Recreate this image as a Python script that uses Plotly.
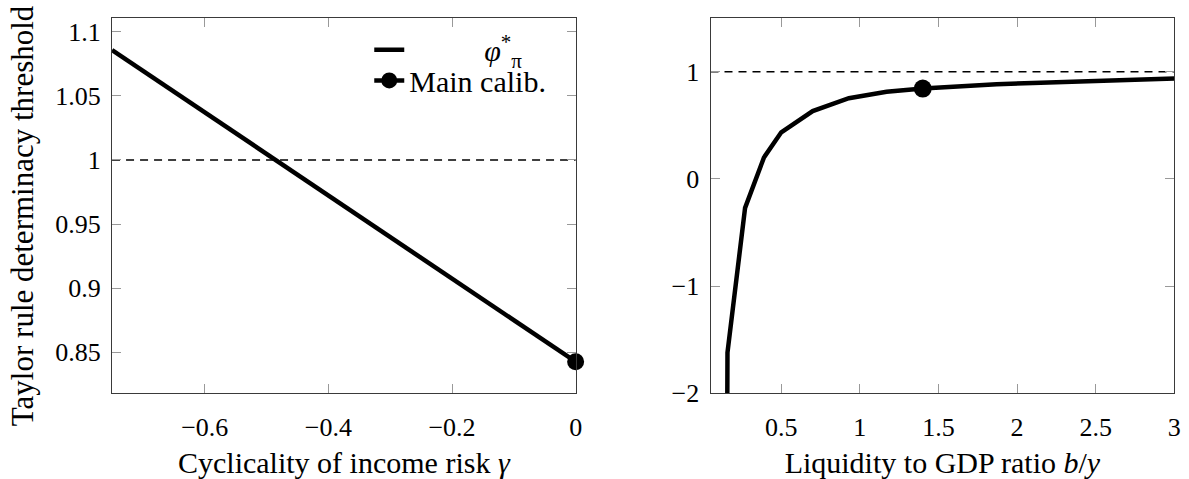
import plotly.graph_objects as go

# Left panel: determinacy threshold against cyclicality of income risk
gamma = [-0.75, -0.5, -0.25, 0.0]
phi_gamma = [1.0857, 1.0047, 0.9236, 0.8426]

# Right panel: determinacy threshold against liquidity-to-GDP ratio
liq = [0.15, 0.158, 0.27, 0.39, 0.5, 0.7, 0.93, 1.17, 1.4, 1.63, 1.87, 2.1, 2.33, 2.57, 2.8, 3.0]
phi_liq = [-4.5, -1.62, -0.27, 0.2, 0.435, 0.632, 0.753, 0.812, 0.843, 0.865, 0.882,
           0.895, 0.906, 0.916, 0.926, 0.936]

# Main calibration point
calib_gamma = [0.0]
calib_liq = [1.4]
calib_phi = [0.8426]

# Tick labels
left_xticks = [-0.6, -0.4, -0.2, 0]
left_xlabels = ["−0.6", "−0.4", "−0.2", "0"]
left_yticks = [0.85, 0.9, 0.95, 1, 1.05, 1.1]
left_ylabels = ["0.85", "0.9", "0.95", "1", "1.05", "1.1"]
right_xticks = [0.5, 1, 1.5, 2, 2.5, 3]
right_xlabels = ["0.5", "1", "1.5", "2", "2.5", "3"]
right_yticks = [-2, -1, 0, 1]
right_ylabels = ["−2", "−1", "0", "1"]

FONT = "Liberation Serif"
TICK_FS = 26
TEXT_FS = 30

fig = go.Figure()

fig.add_trace(go.Scatter(x=gamma, y=phi_gamma, mode="lines",
                         line=dict(color="black", width=4.5),
                         name="\u00a0" * 10 + "<i>φ</i><sup>*</sup><sub>π</sub>",
                         legend="legend", xaxis="x", yaxis="y"))
fig.add_trace(go.Scatter(x=calib_gamma, y=calib_phi, mode="lines+markers",
                         line=dict(color="black", width=4.5),
                         marker=dict(color="black", size=17),
                         cliponaxis=False, name="Main calib.",
                         legend="legend2", xaxis="x", yaxis="y"))
fig.add_trace(go.Scatter(x=liq, y=phi_liq, mode="lines",
                         line=dict(color="black", width=4.5),
                         showlegend=False, xaxis="x2", yaxis="y2"))
fig.add_trace(go.Scatter(x=calib_liq, y=calib_phi, mode="markers",
                         marker=dict(color="black", size=18),
                         cliponaxis=False, showlegend=False,
                         xaxis="x2", yaxis="y2"))

# Dashed reference line at a threshold of one
for xr, yr in (("x", "y"), ("x2", "y2")):
    fig.add_shape(type="line", xref=f"{xr} domain", yref=yr, x0=0, x1=1, y0=1, y1=1,
                  line=dict(color="black", width=1.5, dash="8px,6px"), layer="below")

axis_common = dict(
    showline=True, linecolor="#3a3a3a", linewidth=1.2, mirror="ticks",
    ticks="inside", ticklen=9, tickwidth=1, tickcolor="#999",
    showgrid=False, zeroline=False,
    tickfont=dict(family=FONT, size=TICK_FS, color="black"),
)

legend_common = dict(xanchor="left", yanchor="middle",
                     bgcolor="rgba(0,0,0,0)", borderwidth=0,
                     font=dict(family=FONT, size=TEXT_FS, color="black"))

# Shared vertical label for the threshold
fig.add_annotation(text="Taylor rule determinacy threshold", textangle=-90,
                   xref="paper", yref="paper", x=0.0185, y=0.536,
                   xanchor="center", yanchor="middle", showarrow=False,
                   font=dict(family=FONT, size=31, color="black"))

fig.update_layout(
    width=1189, height=479,
    margin=dict(l=0, r=0, t=0, b=0),
    paper_bgcolor="white", plot_bgcolor="white",
    font=dict(family=FONT, size=TEXT_FS, color="black"),
    showlegend=True,
    legend=dict(x=0.3124, y=0.893, **legend_common),
    legend2=dict(x=0.3124, y=0.8267, **legend_common),
    xaxis=dict(domain=[0.0948, 0.4870], range=[-0.75, 0],
               tickvals=left_xticks, ticktext=left_xlabels, ticklabelstandoff=10,
               title=dict(text="Cyclicality of income risk <i>γ</i>", standoff=12,
                          font=dict(family=FONT, size=TEXT_FS)),
               anchor="y", **axis_common),
    yaxis=dict(domain=[0.1524, 0.9610], range=[0.818, 1.1106],
               tickvals=left_yticks, ticktext=left_ylabels, ticklabelstandoff=5,
               anchor="x", **axis_common),
    xaxis2=dict(domain=[0.6011, 0.9935], range=[0.05, 3],
                tickvals=right_xticks, ticktext=right_xlabels, ticklabelstandoff=10,
                title=dict(text="Liquidity to GDP ratio <i>b</i>/<i>y</i>", standoff=12,
                           font=dict(family=FONT, size=TEXT_FS)),
                anchor="y2", **axis_common),
    yaxis2=dict(domain=[0.1524, 0.9610], range=[-2, 1.5],
                tickvals=right_yticks, ticktext=right_ylabels, ticklabelstandoff=5,
                anchor="x2", **axis_common),
)

fig.write_html("out.html")
